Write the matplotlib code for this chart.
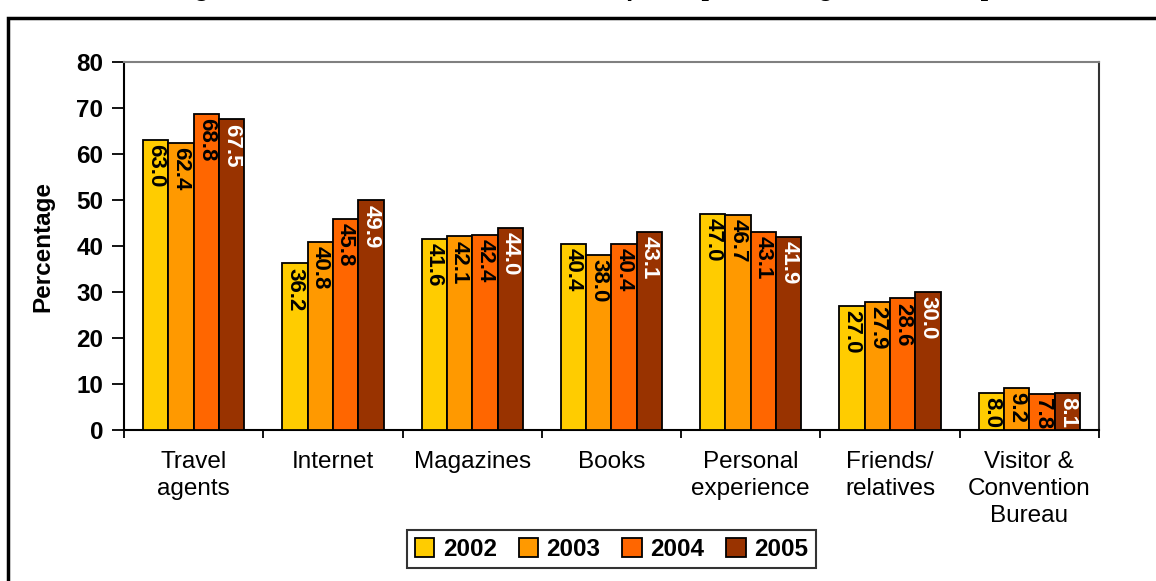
import matplotlib
matplotlib.use("Agg")
import matplotlib.pyplot as plt
import numpy as np
from matplotlib.patches import Rectangle

plt.rcParams['font.family'] = ['Liberation Sans', 'DejaVu Sans']

categories = ["Travel\nagents", "Internet", "Magazines", "Books",
              "Personal\nexperience", "Friends/\nrelatives",
              "Visitor &\nConvention\nBureau"]
years = ["2002", "2003", "2004", "2005"]
v2002 = [63.0, 36.2, 41.6, 40.4, 47.0, 27.0, 8.0]
v2003 = [62.4, 40.8, 42.1, 38.0, 46.7, 27.9, 9.2]
v2004 = [68.8, 45.8, 42.4, 40.4, 43.1, 28.6, 7.8]
v2005 = [67.5, 49.9, 44.0, 43.1, 41.9, 30.0, 8.1]
series = [v2002, v2003, v2004, v2005]
colors = ["#FFCC00", "#FF9900", "#FF6600", "#993300"]
label_colors = ["black", "black", "black", "white"]
title = "Figure 4: Sources of Information \u2013 Japan \u2013 [Percentage of Visitors]"

W, H = 1156, 581
fig = plt.figure(figsize=(W / 100, H / 100), dpi=100)
ax = fig.add_axes([124 / W, 1 - 430 / H, (1099 - 124) / W, (430 - 62) / H])

n = len(categories)
x = np.arange(n)
group_w = 0.727
bw = group_w / 4
for i, (vals, c, lc) in enumerate(zip(series, colors, label_colors)):
    pos = x - group_w / 2 + bw * (i + 0.5)
    bars = ax.bar(pos, vals, width=bw, color=c, edgecolor="black",
                  linewidth=1.3, label=years[i], zorder=3)
    for b, v in zip(bars, vals):
        ax.annotate(f"{v:.1f}", (b.get_x() + b.get_width() / 2, v),
                    xytext=(0, -3), textcoords="offset points",
                    rotation=-90, ha="center", va="top", fontsize=16,
                    fontweight="bold", color=lc, zorder=4)

ax.set_xlim(-0.5, n - 0.5)
ax.set_ylim(0, 80)
ax.set_yticks(range(0, 81, 10))
ax.tick_params(axis="y", labelsize=17.5, length=9, width=1.3, pad=6)
for t in ax.get_yticklabels():
    t.set_fontweight("bold")
ax.set_xticks(np.arange(n + 1) - 0.5)
ax.set_xticklabels([])
ax.tick_params(axis="x", which="major", length=6, width=1.3)
ax.set_xticks(x, minor=True)
ax.set_xticklabels(categories, minor=True, fontsize=17.5, linespacing=1.3)
ax.tick_params(axis="x", which="minor", length=0, pad=15)
ax.set_ylabel("Percentage", fontsize=17.5, fontweight="bold", labelpad=16)

for s in ["left", "bottom"]:
    ax.spines[s].set_linewidth(1.5)
    ax.spines[s].set_color("black")
ax.spines["top"].set_color("#808080")
ax.spines["top"].set_linewidth(1.5)
ax.spines["right"].set_color("#333333")
ax.spines["right"].set_linewidth(1.5)

leg = ax.legend(loc="upper center", bbox_to_anchor=(0.5, -0.24), ncol=4,
                frameon=True, fancybox=False, edgecolor="black",
                prop={"weight": "bold", "size": 17.5}, handlelength=0.8,
                handleheight=0.8, handletextpad=0.35, columnspacing=0.9,
                borderpad=0.3)
leg.get_frame().set_linewidth(1.5)

# outer frame of the chart object
fig.patches.append(Rectangle((8 / W, -0.05), 1.2, 1 - 18 / H + 0.05,
                             transform=fig.transFigure, fill=False,
                             edgecolor="black", linewidth=2.5))
fig.text(580 / W, 1 + 4 / H, title, ha="center", va="baseline",
         fontsize=18.5, fontweight="bold")

fig.savefig("out.png", dpi=100)
